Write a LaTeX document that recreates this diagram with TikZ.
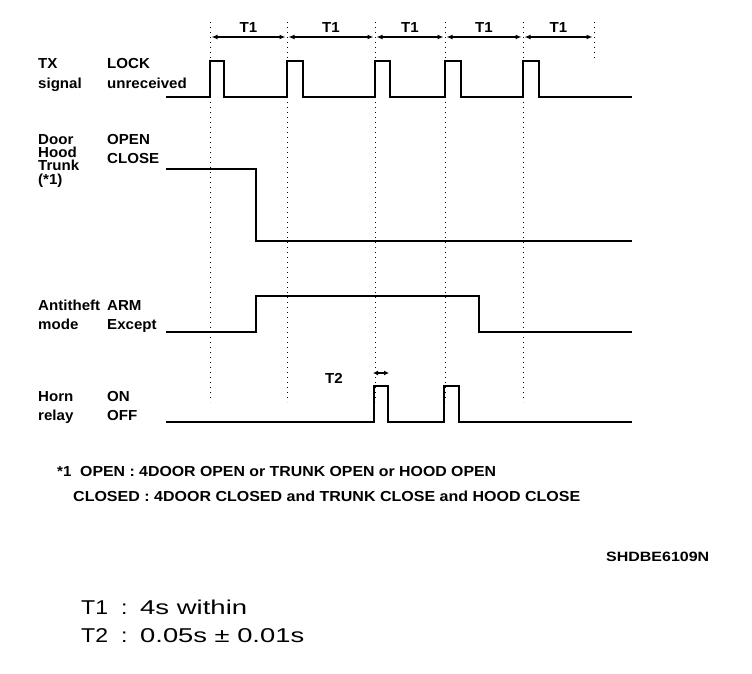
\documentclass[tikz,border=0pt]{standalone}
\usepackage{graphicx}
\usepackage{fontspec}
\setmainfont{Liberation Sans}
\usetikzlibrary{arrows.meta}
\newcommand\wx[1]{\scalebox{1.04}[1]{#1}}
\begin{document}
\begin{tikzpicture}[x=1pt,y=-1pt,
  sig/.style={line width=2.4pt, line join=miter, line cap=butt},
  guide/.style={line width=0.8pt, dash pattern=on 1.2pt off 3.8pt},
  dimline/.style={line width=1.3pt, {Latex[length=6pt,width=5pt]}-{Latex[length=6pt,width=5pt]}, shorten <=1.5pt, shorten >=1.5pt},
  lbl/.style={anchor=base west, inner sep=0pt, font=\fontsize{14.5}{16}\selectfont\bfseries},
  dimlbl/.style={above=4pt, inner sep=0pt, font=\fontsize{14.5}{16}\selectfont\bfseries},
  big/.style={anchor=base west, inner sep=0pt, font=\fontsize{20}{22}\selectfont}
]
\fill[white] (0,0) rectangle (752,674);
\useasboundingbox (0,0) rectangle (752,674);

% time marks
\foreach \n/\x in {a/210,b/287,c/375,d/445,e/523,f/594} {\coordinate (t\n) at (\x,37);}
\foreach \x in {210,287,375,445,523} {\draw[guide] (\x,22) -- (\x,402);}
\draw[guide] (594,22) -- (594,62);

% T1 dimension lines
\draw[dimline] (ta) -- node[dimlbl]{\wx{T1}} (tb);
\draw[dimline] (tb) -- node[dimlbl]{\wx{T1}} (tc);
\draw[dimline] (tc) -- node[dimlbl]{\wx{T1}} (td);
\draw[dimline] (td) -- node[dimlbl]{\wx{T1}} (te);
\draw[dimline] (te) -- node[dimlbl]{\wx{T1}} (tf);

% signals
\draw[sig] (166,97) -- (210,97) -- (210,61) -- (224,61) -- (224,97) -- (287,97) -- (287,61) -- (303,61) -- (303,97)
  -- (375,97) -- (375,61) -- (390,61) -- (390,97) -- (445,97) -- (445,61) -- (461,61) -- (461,97)
  -- (523,97) -- (523,61) -- (539,61) -- (539,97) -- (632,97);
\draw[sig] (166,169) -- (256,169) -- (256,241) -- (632,241);
\draw[sig] (166,332) -- (256,332) -- (256,296) -- (479,296) -- (479,332) -- (632,332);
\draw[sig] (166,422) -- (374,422) -- (374,386) -- (388,386) -- (388,422) -- (444,422) -- (444,386) -- (459,386) -- (459,422) -- (632,422);

% T2
\coordinate (t2a) at (373,373);
\coordinate (t2b) at (389,373);
\draw[line width=1.3pt, {Latex[length=5pt,width=5pt]}-{Latex[length=5pt,width=5pt]}] (t2a) -- (t2b);
\node[inner sep=0pt, font=\fontsize{14.5}{16}\selectfont\bfseries] (t2lbl) at (334,378) {\wx{T2}};

% labels
\node[lbl] (l1) at (38,69) {\wx{TX}};
\node[lbl] (l2) at (38,89) {\wx{signal}};
\node[lbl] (l3) at (107,69) {\wx{LOCK}};
\node[lbl] (l4) at (107,89) {\wx{unreceived}};
\node[lbl] (l5) at (38,144) {\wx{Door}};
\node[lbl] (l6) at (38,157.5) {\wx{Hood}};
\node[lbl] (l7) at (38,171) {\wx{Trunk}};
\node[lbl] (l8) at (38,184.5) {\wx{(*1)}};
\node[lbl] (l9) at (107,144) {\wx{OPEN}};
\node[lbl] (l10) at (107,163) {\wx{CLOSE}};
\node[lbl] (l11) at (38,310) {\wx{Antitheft}};
\node[lbl] (l12) at (38,329) {\wx{mode}};
\node[lbl] (l13) at (107,310) {\wx{ARM}};
\node[lbl] (l14) at (107,329) {\wx{Except}};
\node[lbl] (l15) at (38,401) {\wx{Horn}};
\node[lbl] (l16) at (38,420) {\wx{relay}};
\node[lbl] (l17) at (107,401) {\wx{ON}};
\node[lbl] (l18) at (107,420) {\wx{OFF}};

% footnote
\node[lbl] (f0) at (57,476) {\wx{*1}};
\node[lbl] (f1) at (80,476) {\resizebox{416pt}{\height}{OPEN : 4DOOR OPEN or TRUNK OPEN or HOOD OPEN}};
\node[lbl] (f2) at (73,501) {\resizebox{507pt}{\height}{CLOSED : 4DOOR CLOSED and TRUNK CLOSE and HOOD CLOSE}};

\node[lbl, font=\fontsize{13.5}{15}\selectfont\bfseries] (code) at (606,561) {\resizebox{103pt}{\height}{SHDBE6109N}};

% bottom legend
\node[big] (b1) at (81,614) {\scalebox{1.15}[1]{T1}};
\node[big] (b2) at (121,614) {\scalebox{1.15}[1]{:}};
\node[big] (b3) at (140,614) {\resizebox{107pt}{\height}{4s within}};
\node[big] (c1) at (81,642) {\scalebox{1.15}[1]{T2}};
\node[big] (c2) at (121,642) {\scalebox{1.15}[1]{:}};
\node[big] (c3) at (140,642) {\resizebox{164pt}{\height}{0.05s ± 0.01s}};
\end{tikzpicture}
\end{document}
